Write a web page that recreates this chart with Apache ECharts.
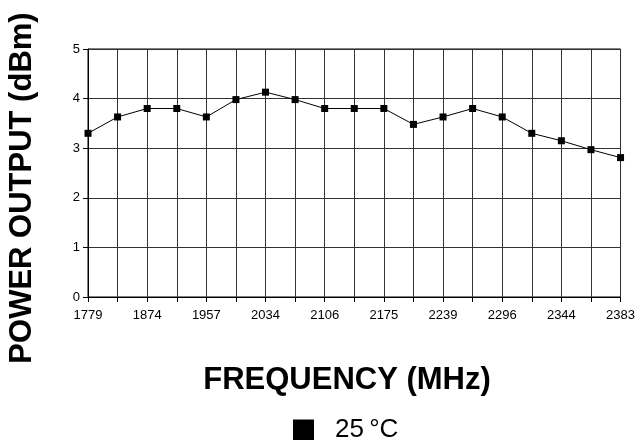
<!DOCTYPE html>
<html>
<head>
<meta charset="utf-8">
<script src="https://cdn.jsdelivr.net/npm/echarts@6/dist/echarts.min.js"></script>
<style>
html,body{margin:0;padding:0;background:#fff;}
#chart{width:638px;height:440px;}
</style>
</head>
<body>
<div id="chart"></div>
<script>
// Frequency categories (MHz); odd entries are unlabeled ticks in the reference
const frequencies = ['1779','1827','1874','1916','1957','1996','2034','2070','2106','2141','2175','2207','2239','2268','2296','2320','2344','2364','2383'];
// Power output at 25 °C (dBm)
const power25C = [3.30, 3.63, 3.80, 3.80, 3.63, 3.98, 4.13, 3.98, 3.80, 3.80, 3.80, 3.48, 3.63, 3.80, 3.63, 3.30, 3.15, 2.97, 2.81];
const yTicks = [0, 1, 2, 3, 4, 5];
const seriesName = '25\u2009°C';
const xTitle = 'FREQUENCY (MHz)';
const yTitle = 'POWER OUTPUT (dBm)';

const chart = echarts.init(document.getElementById('chart'), null, {renderer: 'canvas'});
const font = 'Liberation Sans, Arial, sans-serif';
chart.setOption({
  animation: false,
  backgroundColor: '#fff',
  grid: {left: 88, right: 16, top: 49, bottom: 143, show: true, borderColor: '#000', borderWidth: 1},
  xAxis: {
    type: 'category',
    data: frequencies,
    boundaryGap: false,
    axisLine: {lineStyle: {color: '#000', width: 1}},
    axisTick: {show: true, interval: 0, length: 5, lineStyle: {color: '#000'}},
    axisLabel: {interval: 1, color: '#000', fontFamily: font, fontSize: 13, margin: 12},
    splitLine: {show: true, interval: 0, lineStyle: {color: '#333', width: 1}}
  },
  yAxis: {
    type: 'value',
    min: yTicks[0],
    max: yTicks[yTicks.length - 1],
    interval: 1,
    axisLine: {show: true, lineStyle: {color: '#000', width: 1}},
    axisTick: {show: true, length: 5, lineStyle: {color: '#000'}},
    axisLabel: {color: '#000', fontFamily: font, fontSize: 13, margin: 8},
    splitLine: {show: true, lineStyle: {color: '#333', width: 1}}
  },
  legend: {
    left: 288, top: 412,
    itemWidth: 21, itemHeight: 21,
    icon: 'rect',
    data: [{name: seriesName, icon: 'rect'}],
    textStyle: {color: '#000', fontFamily: font, fontSize: 26, padding: [0, 0, 0, 16]}
  },
  graphic: [
    {type: 'text', x: 22, y: 188, rotation: Math.PI / 2,
     style: {text: yTitle, font: 'bold 31px ' + font, fill: '#000', align: 'center', verticalAlign: 'middle'}},
    {type: 'text', x: 347, y: 380,
     style: {text: xTitle, font: 'bold 31px ' + font, fill: '#000', align: 'center', verticalAlign: 'middle'}}
  ],
  series: [{
    name: seriesName,
    type: 'line',
    data: power25C,
    symbol: 'rect',
    symbolSize: 7,
    itemStyle: {color: '#000'},
    lineStyle: {color: '#000', width: 1}
  }]
});
</script>
</body>
</html>
